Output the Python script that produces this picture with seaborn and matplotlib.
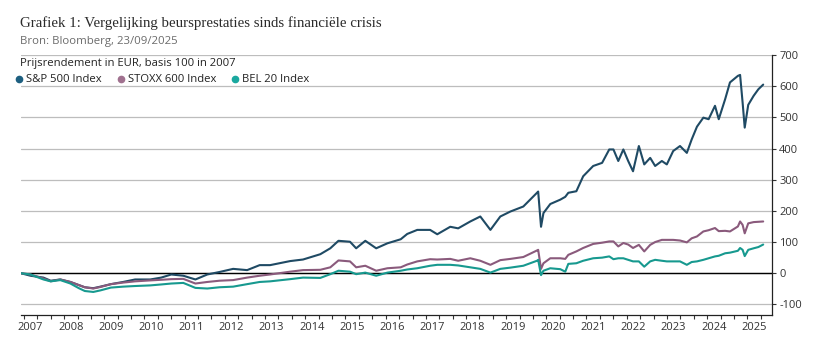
import numpy as np
import pandas as pd
import matplotlib
matplotlib.use("Agg")
import matplotlib.pyplot as plt
import matplotlib.dates as mdates
from matplotlib.lines import Line2D
import seaborn as sns

# data (price return in EUR, 2007 = 0)
dates = ["2007-04-06", "2007-07-01", "2007-10-27", "2008-01-01", "2008-03-28",
         "2008-06-28", "2008-09-13", "2008-11-06", "2009-01-22", "2009-03-28",
         "2009-07-01", "2009-10-20", "2010-02-06", "2010-06-24", "2010-10-01",
         "2011-01-01", "2011-04-20", "2011-08-08", "2011-11-24", "2012-03-14",
         "2012-07-16", "2012-11-20", "2013-03-14", "2013-06-17", "2013-12-16",
         "2014-04-12", "2014-09-16", "2014-12-16", "2015-02-28", "2015-06-13",
         "2015-08-08", "2015-10-30", "2016-02-06", "2016-05-18", "2016-09-16",
         "2016-11-14", "2017-02-13", "2017-06-10", "2017-08-14", "2017-12-10",
         "2018-02-20", "2018-06-10", "2018-09-09", "2018-12-10", "2019-03-10",
         "2019-06-10", "2019-10-05", "2020-02-06", "2020-02-17", "2020-03-14",
         "2020-04-05", "2020-06-06", "2020-09-05", "2020-10-20", "2020-11-17",
         "2021-01-29", "2021-04-01", "2021-07-01", "2021-09-20", "2021-11-24",
         "2022-01-01", "2022-02-14", "2022-04-01", "2022-05-15", "2022-06-28",
         "2022-08-20", "2022-10-08", "2022-12-01", "2023-01-15", "2023-03-17",
         "2023-05-01", "2023-06-28", "2023-08-29", "2023-10-30", "2023-12-13",
         "2024-01-30", "2024-03-28", "2024-05-15", "2024-07-12", "2024-08-15",
         "2024-10-12", "2024-11-25", "2025-02-05", "2025-02-25", "2025-03-20",
         "2025-04-08", "2025-05-10", "2025-06-28", "2025-08-10", "2025-09-23"]

sp500 = [0, -8, -14, -24, -20, -28, -38, -45, -48, -43,
         -35, -28, -20, -20, -14, -4, -8, -20, -4, 4,
         14, 10, 26, 26, 39, 44, 61, 80, 104, 101,
         80, 104, 80, 96, 109, 126, 139, 139, 125, 149,
         144, 166, 182, 139, 182, 198, 214, 258, 262, 149,
         193, 222, 236, 245, 258, 263, 311, 344, 354, 397,
         397, 360, 397, 360, 327, 408, 349, 370, 344, 360,
         349, 392, 408, 386, 429, 470, 499, 494, 537, 494,
         558, 612, 633, 636, 547, 467, 540, 569, 590, 605]

stoxx600 = [0, -4, -17, -26, -20, -28, -38, -45, -49, -44,
            -35, -30, -26, -23, -21, -19, -18, -33, -28, -24,
            -22, -14, -8, -4, 5, 10, 11, 19, 41, 38,
            19, 24, 8, 16, 19, 28, 38, 45, 44, 46,
            40, 48, 40, 27, 42, 46, 52, 73, 75, 14,
            32, 48, 48, 46, 59, 70, 81, 94, 98, 102,
            102, 86, 97, 92, 81, 91, 70, 91, 100, 107,
            107, 107, 105, 99, 112, 118, 134, 138, 145, 135,
            136, 134, 150, 166, 155, 128, 160, 164, 165, 166]

bel20 = [0, -4, -20, -26, -22, -33, -48, -57, -60, -55,
         -46, -43, -41, -39, -36, -33, -31, -47, -49, -45,
         -43, -35, -28, -26, -19, -14, -15, -3, 8, 5,
         -3, 2, -8, 2, 8, 12, 16, 24, 27, 27,
         25, 19, 14, 2, 14, 18, 24, 40, 43, -6,
         8, 16, 13, 5, 30, 32, 40, 48, 50, 54,
         45, 48, 48, 43, 38, 38, 21, 38, 43, 40,
         38, 38, 38, 27, 36, 38, 43, 48, 54, 56,
         64, 66, 72, 81, 75, 55, 75, 80, 84, 92]

series_names = ["S&P 500 Index", "STOXX 600 Index", "BEL 20 Index"]
line_colors = ["#1f4a64", "#8a5a7c", "#17998f"]
dot_colors = ["#1d5f80", "#a0718f", "#1aa89f"]
year_labels = list(range(2007, 2026))
y_ticks = list(range(-100, 701, 100))

df = pd.DataFrame({"datum": pd.to_datetime(dates),
                   series_names[0]: sp500,
                   series_names[1]: stoxx600,
                   series_names[2]: bel20})
long_df = df.melt(id_vars="datum", var_name="index", value_name="rendement")

sns.set_theme(style="white")
plt.rcParams["font.family"] = ["Open Sans", "DejaVu Sans"]

fig = plt.figure(figsize=(8.2, 3.57), dpi=100)
ax = fig.add_axes([0.0256, 0.1176, 0.916, 0.7284])

ax.yaxis.grid(True, color="#bdbdbd", linewidth=0.9)
ax.set_axisbelow(True)
ax.axhline(0, color="black", linewidth=1.0, zorder=1.5)

sns.lineplot(data=long_df, x="datum", y="rendement", hue="index",
             hue_order=series_names, palette=line_colors, linewidth=1.5,
             ax=ax, legend=False)

ax.set_xlim(pd.Timestamp("2007-04-06"), pd.Timestamp("2025-12-13"))
ax.set_ylim(-134, 700)
ax.set_xlabel("")
ax.set_ylabel("")

ax.yaxis.tick_right()
ax.set_yticks(y_ticks)
ax.set_yticklabels([str(v) for v in y_ticks])
ax.tick_params(axis="y", right=True, length=3, width=0.8, pad=2,
               labelsize=8, colors="#333333")

ax.set_xticks([pd.Timestamp(f"{y}-07-01") for y in year_labels])
ax.set_xticklabels([str(y) for y in year_labels])
ax.xaxis.set_minor_locator(mdates.MonthLocator(bymonth=[1, 5, 9]))
ax.tick_params(axis="x", which="major", length=0, pad=5, labelsize=8,
               colors="#333333")
ax.tick_params(axis="x", which="minor", bottom=True, length=3, width=0.8,
               color="#333333")

for side in ["left", "top"]:
    ax.spines[side].set_visible(False)
for side in ["right", "bottom"]:
    ax.spines[side].set_visible(True)
    ax.spines[side].set_color("#222222")
    ax.spines[side].set_linewidth(0.9)

fig.text(0.0244, 0.936, "Grafiek 1: Vergelijking beursprestaties sinds financiële crisis",
         family=["Liberation Serif", "DejaVu Serif"], fontsize=10.7,
         color="#2b2b2b", va="center", ha="left")
fig.text(0.0244, 0.885, "Bron: Bloomberg, 23/09/2025", fontsize=8.2,
         color="#6b6b6b", va="center", ha="left")
fig.text(0.0244, 0.8235, "Prijsrendement in EUR, basis 100 in 2007", fontsize=8.1,
         color="#222222", va="center", ha="left")

handles = [Line2D([], [], linestyle="none", marker="o", markersize=4.5,
                  markerfacecolor=c, markeredgecolor=c) for c in dot_colors]
fig.legend(handles, series_names, loc="center left",
           bbox_to_anchor=(0.0195, 0.776), ncol=3, frameon=False,
           fontsize=8.1, handlelength=0.6, handletextpad=0.3,
           columnspacing=1.4, borderpad=0, borderaxespad=0,
           labelcolor="#222222")

fig.savefig("out.png", dpi=100)
